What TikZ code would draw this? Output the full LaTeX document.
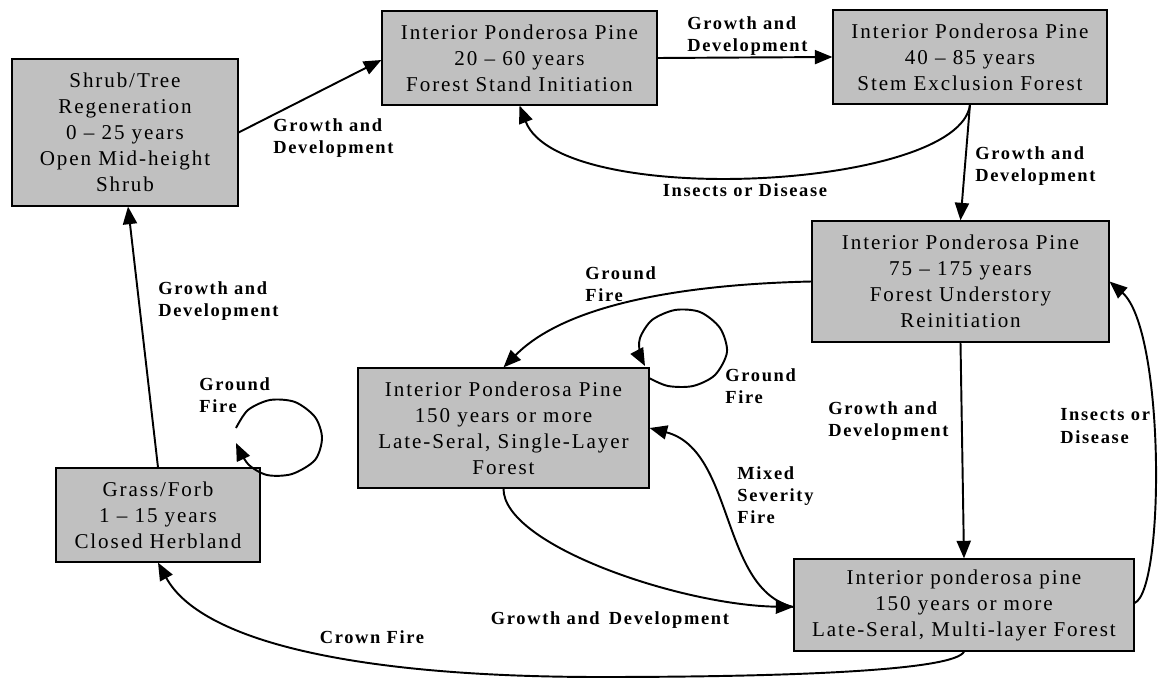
\documentclass[tikz,border=0pt]{standalone}
\usepackage{fontspec}
\setmainfont{Liberation Serif}
\newfontfamily\boxfont[LetterSpace=9]{Liberation Serif}
\newfontfamily\labfont[LetterSpace=9]{Liberation Serif Bold}
\usetikzlibrary{arrows.meta,calc}
\definecolor{boxgray}{RGB}{192,192,192}
\begin{document}
\begin{tikzpicture}[x=0.02cm,y=-0.02cm,
  stage/.style={draw=black, line width=0.7pt, fill=boxgray, align=center, inner sep=0pt,
    font=\boxfont\fontsize{12}{14.8}\selectfont},
  lab/.style={font=\labfont\fontsize{10.5}{12.6}\selectfont, inner sep=0pt, align=left},
  conn/.style={line width=1.1pt, -{Triangle[length=10pt,width=8pt]}},
  ]
\useasboundingbox (0,0) rectangle (1160,679);

% stages
\node[stage, minimum width=4.52cm, minimum height=2.94cm] (A) at (125,132.5)
  {Shrub/Tree\\Regeneration\\0 – 25 years\\Open Mid-height\\Shrub};
\node[stage, minimum width=5.5cm, minimum height=1.88cm] (B) at (519.5,58)
  {Interior Ponderosa Pine\\20 – 60 years\\Forest Stand Initiation};
\node[stage, minimum width=5.48cm, minimum height=1.88cm] (C) at (970,57)
  {Interior Ponderosa Pine\\40 – 85 years\\Stem Exclusion Forest};
\node[stage, minimum width=5.94cm, minimum height=2.42cm] (D) at (960.5,281.5)
  {Interior Ponderosa Pine\\75 – 175 years\\Forest Understory\\Reinitiation};
\node[stage, minimum width=5.82cm, minimum height=2.4cm] (E) at (503.5,428)
  {Interior Ponderosa Pine\\150 years or more\\Late-Seral, Single-Layer\\Forest};
\node[stage, minimum width=4.08cm, minimum height=1.88cm] (F) at (158,515)
  {Grass/Forb\\1 – 15 years\\Closed Herbland};
\node[stage, minimum width=6.8cm, minimum height=1.84cm] (G) at (964,605)
  {Interior ponderosa pine\\150 years or more\\Late-Seral, Multi-layer Forest};

% connectors
\draw[conn] (A.east) -- ($(B.west)+(0,2)$);
\draw[conn] (B.east) -- (C.west);
\draw[conn] (C.south) .. controls (960,190) and (560,210) .. (B.south);
\draw[conn] (C.south) -- (D.north);
\draw[conn] (D.west) .. controls (700,284) and (570,300) .. (E.north);
\draw[conn] plot[smooth] coordinates {(649,378) (668,386) (693,386) (715,375) (727,352) (720,328) (700,312) (675,310) (652,320) (640,338) (640,354) (645,366)};
\draw[conn] (D.south) -- (G.north);
\draw[conn] ($(G.east)+(0,-2)$) .. controls (1165,590) and (1165,330) .. (D.east);
\draw[conn] (E.south) .. controls (503,545) and (680,605) .. ($(G.west)+(0,2)$);
\draw[conn] ($(G.west)+(0,2)$) .. controls (720,590) and (735,450) .. (E.east);
\draw[conn] (G.south) .. controls (955,670) and (800,677) .. (600,677)
  .. controls (350,677) and (200,640) .. (F.south);
\draw[conn] (F.north) -- ($(A.south)+(3,0)$);
\draw[conn] plot[smooth] coordinates {(236,428) (248,410) (270,400) (295,402) (315,417) (322,438) (315,460) (292,474) (267,475) (248,464) (236,443)};

% labels
\node[lab, anchor=west] (l1) at (273,138) {Growth and\\Development};
\node[lab, anchor=west] (l2) at (687,36) {Growth and\\Development};
\node[lab] (l3) at (745,190) {Insects or Disease};
\node[lab, anchor=west] (l4) at (975,166) {Growth and\\Development};
\node[lab, anchor=west] (l5) at (585,284) {Ground\\Fire};
\node[lab, anchor=west] (l6) at (725,386) {Ground\\Fire};
\node[lab, anchor=west] (l7) at (828,421) {Growth and\\Development};
\node[lab, anchor=west] (l8) at (1060,426) {Insects or\\Disease};
\node[lab, anchor=west] (l9) at (737,495) {Mixed\\Severity\\Fire};
\node[lab] (l10) at (610,620) {Growth and\hspace{0.5em}Development};
\node[lab] (l11) at (372,637) {Crown Fire};
\node[lab, anchor=west] (l12) at (158,301) {Growth and\\Development};
\node[lab, anchor=west] (l13) at (199,395) {Ground\\Fire};
\end{tikzpicture}
\end{document}
